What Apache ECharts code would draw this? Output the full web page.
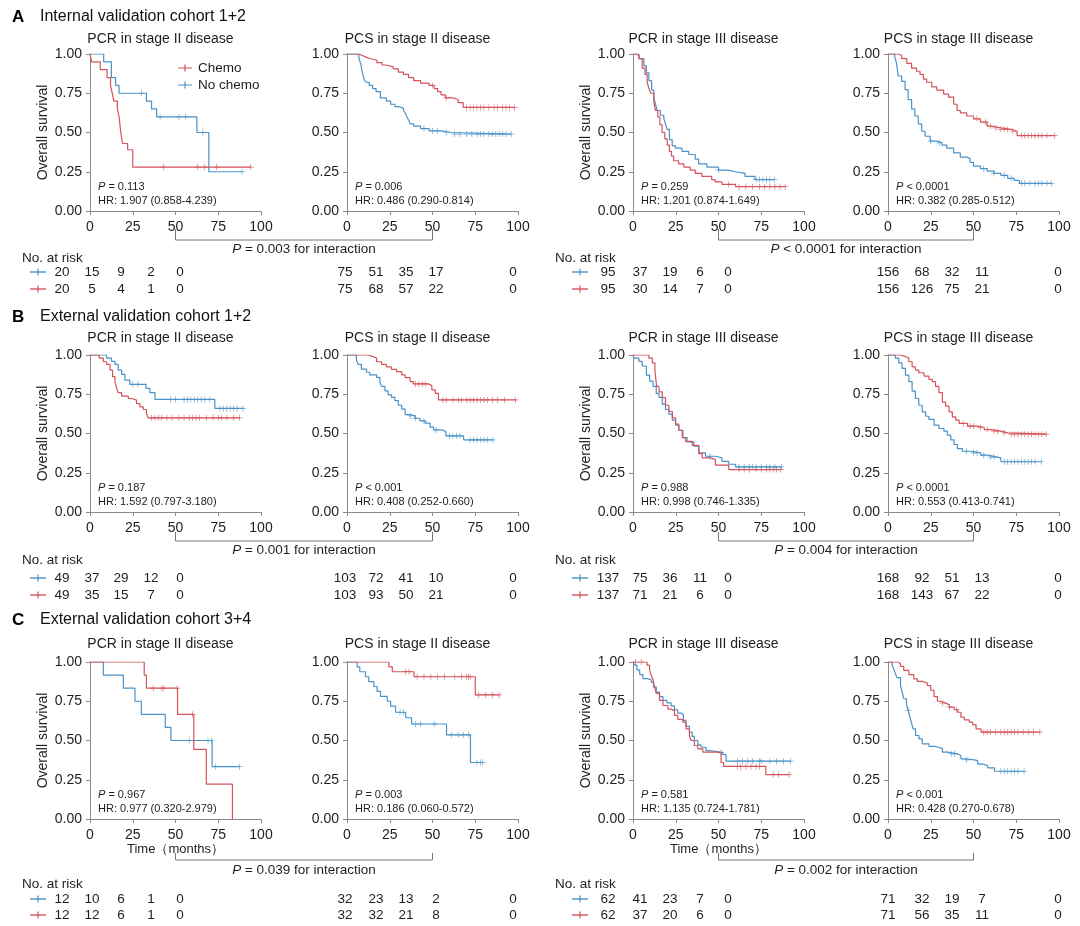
<!DOCTYPE html>
<html><head><meta charset="utf-8">
<script src="https://cdn.jsdelivr.net/npm/echarts@6/dist/echarts.min.js"></script>
<style>html,body{margin:0;padding:0;background:#fff}#c{width:1080px;height:926px}</style>
</head><body><div id="c"></div>
<script>
// ---------------- DATA ----------------
const sectionLetters = ['A', 'B', 'C'];
const sectionTitles = ['Internal validation cohort 1+2', 'External validation cohort 1+2', 'External validation cohort 3+4'];
const panelTitles = ['PCR in stage II disease', 'PCS in stage II disease', 'PCR in stage III disease', 'PCS in stage III disease'];
const xTicks = [0, 25, 50, 75, 100];
const yTicks = [0, 0.25, 0.5, 0.75, 1];
const seriesNames = ['Chemo', 'No chemo'];

// Kaplan-Meier step points [months, survival]; censor times
const A1_chemo = [[0,1],[1,0.95],[6,0.90],[10,0.85],[12,0.80],[13,0.75],[14,0.70],[16,0.65],[17,0.60],[17.5,0.55],[18,0.50],[19,0.43],[22,0.39],[25,0.28],[94,0.28]];
const A1_chemo_cens = [43,63,67,74,94];
const A1_nochemo = [[0,1],[8,0.95],[12.5,0.85],[15,0.80],[17,0.75],[33,0.70],[36,0.65],[39,0.60],[62.5,0.50],[69.5,0.25],[89,0.25]];
const A1_nochemo_cens = [30,41,52,56,66,89];

const A2_chemo = [[0,1],[7,0.99],[9,0.98],[11,0.97],[14,0.96],[17.5,0.945],[20.5,0.93],[22.5,0.92],[27,0.905],[30,0.885],[33,0.87],[36,0.85],[39,0.83],[43,0.815],[48,0.80],[51,0.78],[53,0.76],[55,0.74],[57.5,0.72],[62.5,0.71],[65,0.69],[68,0.66],[98,0.66]];
const A2_chemo_cens = [50,58,70,72,74,76,78,80,83,86,88,91,93,95,98];
const A2_nochemo = [[0,1],[7,0.97],[8,0.94],[9,0.88],[10,0.84],[11,0.82],[13,0.80],[15,0.78],[17,0.76],[19.5,0.72],[23,0.70],[25.5,0.68],[28,0.665],[30,0.655],[33,0.64],[34,0.625],[35,0.60],[36,0.58],[37,0.555],[39,0.54],[43,0.525],[48,0.51],[55,0.50],[61,0.49],[96,0.49]];
const A2_nochemo_cens = [45,50,53,58,63,66,70,73,76,78,80,83,85,87,89,91,93,96];

const A3_chemo = [[0,1],[1.5,0.99],[3.5,0.97],[5.4,0.91],[7,0.87],[8.3,0.82],[9.3,0.78],[10.3,0.75],[12.2,0.69],[13.2,0.64],[14.5,0.60],[15.7,0.55],[17,0.50],[18.6,0.46],[20,0.42],[21.3,0.38],[22.5,0.35],[23.8,0.32],[26.7,0.30],[29.7,0.28],[33.5,0.26],[36.4,0.24],[40.3,0.22],[46,0.20],[48,0.185],[52,0.17],[60,0.155],[89,0.155]];
const A3_chemo_cens = [56,62,66,70,74,77,80,83,86,89];
const A3_nochemo = [[0,1],[3.5,0.97],[6.4,0.925],[7.8,0.88],[9.3,0.83],[10.9,0.77],[12.2,0.72],[13.2,0.68],[14.1,0.64],[16,0.61],[18,0.59],[19,0.555],[20,0.52],[21.3,0.455],[22.9,0.415],[24.8,0.40],[28.7,0.38],[32.6,0.36],[36.4,0.33],[38.4,0.30],[43.2,0.28],[50,0.26],[55.8,0.25],[59.7,0.24],[65.5,0.22],[71.3,0.20],[82.6,0.20]];
const A3_nochemo_cens = [50,72,74,76,78,80,82.6];

const A4_chemo = [[0,1],[6,0.99],[8,0.97],[11,0.94],[13.8,0.91],[16.7,0.89],[18.7,0.87],[20.7,0.84],[22.6,0.82],[25.6,0.79],[28.5,0.77],[32.5,0.745],[35.4,0.725],[38.4,0.68],[40.4,0.64],[42.3,0.625],[46,0.605],[50,0.587],[54,0.566],[58,0.54],[61,0.53],[66,0.52],[72,0.508],[75.5,0.48],[97.5,0.48]];
const A4_chemo_cens = [52,57,60,63,66,68,70,73,78,80,82,84,86,88,90,93,97.5];
const A4_nochemo = [[0,1],[4,0.98],[5,0.94],[6,0.86],[8,0.826],[10,0.773],[11.8,0.71],[13.8,0.65],[15.7,0.605],[17.7,0.555],[19.7,0.508],[21.7,0.476],[24.6,0.445],[28.5,0.434],[31.5,0.42],[34.4,0.40],[38.4,0.37],[42.3,0.343],[46.3,0.333],[48,0.31],[50,0.286],[54,0.27],[58,0.254],[62,0.24],[66,0.227],[70,0.208],[73.8,0.195],[76.8,0.176],[95.5,0.176]];
const A4_nochemo_cens = [25,30,56,62,68,72,78,80,83,86,88,90,93,95.5];

const B1_chemo = [[0,1],[5.4,0.98],[7.8,0.957],[9.7,0.94],[11.7,0.904],[13.2,0.862],[14.6,0.83],[15.6,0.787],[16.5,0.76],[18.5,0.738],[22.4,0.723],[24.3,0.713],[27.2,0.69],[29.2,0.67],[31.1,0.653],[33,0.628],[34,0.60],[87.5,0.60]];
const B1_chemo_cens = [36,38,40,42,45,48,52,55,58,60,62,64,68,72,75,77,80,84,87.5];
const B1_nochemo = [[0,1],[9.7,0.98],[12.6,0.96],[14.6,0.94],[16.5,0.904],[18.5,0.877],[20.4,0.84],[23.3,0.813],[32.7,0.787],[35,0.76],[38,0.717],[73,0.66],[89.5,0.66]];
const B1_nochemo_cens = [25,28,47,50,55,57,59,61,63,65,67,70,76,78,80,82,84,86,89.5];

const B2_chemo = [[0,1],[12.4,0.99],[15.3,0.98],[17.3,0.957],[20.2,0.94],[23,0.925],[26,0.909],[29,0.894],[32,0.873],[34,0.856],[36.9,0.83],[38.8,0.816],[47.6,0.805],[49.6,0.778],[51.6,0.756],[53.5,0.714],[98.6,0.714]];
const B2_chemo_cens = [40,42,44,46,56,58,62,65,67,70,72,74,76,78,80,82,85,88,92,98.6];
const B2_nochemo = [[0,1],[5.5,0.97],[6.5,0.94],[8.4,0.91],[11.4,0.89],[13.3,0.873],[17.3,0.858],[19.2,0.83],[20.2,0.80],[22.2,0.771],[24.1,0.746],[26,0.73],[28,0.71],[30,0.68],[32,0.655],[34,0.62],[36.9,0.612],[39.8,0.597],[42.7,0.58],[45.7,0.566],[48.6,0.54],[50.6,0.523],[55.5,0.513],[57.8,0.485],[68.2,0.46],[85.3,0.46]];
const B2_nochemo_cens = [37,40,45,52,60,62,64,66,72,74,76,78,80,82,85.3];

const B3_chemo = [[0,1],[9.3,0.98],[11.3,0.95],[12.8,0.904],[13.8,0.80],[15.2,0.765],[17.1,0.728],[19,0.68],[21,0.64],[23,0.60],[24.9,0.56],[26.8,0.52],[28.8,0.474],[30.7,0.45],[34.6,0.425],[38.5,0.372],[40.5,0.345],[45.3,0.334],[48.2,0.298],[56,0.27],[86.2,0.27]];
const B3_chemo_cens = [62,65,68,72,75,78,80,82,84,86.2];
const B3_nochemo = [[0,1],[0.6,0.98],[3.5,0.96],[5.4,0.93],[7.8,0.872],[9.7,0.834],[11.7,0.80],[13.6,0.755],[15.2,0.73],[17.1,0.687],[19,0.653],[21,0.623],[23,0.585],[24.9,0.553],[26.8,0.52],[29.2,0.474],[31.7,0.447],[35.6,0.419],[38.5,0.377],[42.4,0.355],[48.2,0.345],[52,0.323],[56,0.304],[60,0.287],[86.8,0.287]];
const B3_nochemo_cens = [45,62,65,68,70,72,75,78,80,83,86.8];

const B4_chemo = [[0,1],[7.3,0.99],[10.2,0.98],[12.2,0.957],[14.1,0.925],[16,0.904],[18,0.887],[21,0.866],[23.9,0.845],[25.9,0.83],[27.8,0.80],[29.8,0.76],[31.8,0.70],[33.7,0.675],[35.7,0.638],[37.6,0.606],[39.6,0.585],[41.6,0.564],[46.5,0.547],[52.4,0.538],[56.3,0.525],[60.2,0.515],[66,0.504],[70,0.496],[92.5,0.496]];
const B4_chemo_cens = [44,48,50,54,58,62,64,68,72,74,76,78,80,82,84,86,88,90,92.5];
const B4_nochemo = [[0,1],[4.3,0.98],[6.3,0.95],[8.2,0.915],[10.2,0.872],[12.2,0.83],[14.1,0.77],[16,0.723],[18,0.68],[20,0.638],[22,0.61],[23.9,0.59],[26.9,0.553],[29.8,0.532],[32.7,0.515],[34.7,0.49],[36.7,0.46],[38.6,0.43],[40.6,0.404],[43.5,0.387],[48.4,0.377],[54.3,0.362],[58.2,0.35],[64,0.345],[66,0.32],[89.6,0.32]];
const B4_nochemo_cens = [46,50,52,56,60,62,68,70,72,74,76,78,80,82,84,86,89.6];

const C1_chemo = [[0,1],[31.7,0.917],[33,0.833],[51.2,0.667],[60.7,0.444],[68,0.222],[83.3,0]];
const C1_chemo_cens = [37,42,43,51,60];
const C1_nochemo = [[0,1],[7.8,0.917],[19.5,0.833],[26.3,0.75],[30,0.667],[44,0.583],[47.3,0.50],[71.4,0.333],[87.5,0.333]];
const C1_nochemo_cens = [58,69,71,73.5,87.5];

const C2_chemo = [[0,1],[24.5,0.969],[26.5,0.938],[39.2,0.906],[75,0.79],[89,0.79]];
const C2_chemo_cens = [34.3,36.3,41,45,49,53,57,63,67,70,71,72,77,81,85,89];
const C2_nochemo = [[0,1],[5.9,0.969],[7.5,0.938],[10.8,0.906],[12.7,0.875],[15.7,0.844],[17.6,0.813],[19.6,0.781],[23.5,0.75],[25.5,0.719],[28.4,0.68],[34.3,0.645],[37.8,0.605],[58.2,0.536],[72.2,0.36],[79.4,0.36]];
const C2_nochemo_cens = [31,33,40,43,51,61,65,68,71,76,78,79.4];

const C3_chemo = [[0,1],[8.2,0.98],[9.7,0.95],[10.7,0.915],[11.7,0.887],[12.6,0.84],[13.6,0.80],[15.5,0.755],[17.5,0.723],[20.4,0.70],[22.3,0.69],[24.3,0.66],[26.2,0.635],[29.1,0.617],[31,0.574],[33,0.532],[34,0.50],[35.9,0.468],[37.9,0.447],[40.8,0.426],[49.5,0.42],[51.5,0.36],[53,0.335],[77.7,0.283],[91.3,0.283]];
const C3_chemo_cens = [1.5,4.8,61,63,66,69,72,74,82,85,91.3];
const C3_nochemo = [[0,1],[1,0.98],[2.3,0.95],[3.9,0.92],[5.8,0.894],[8.7,0.885],[10.7,0.87],[12,0.84],[13.6,0.808],[15.5,0.78],[17.5,0.755],[19.8,0.74],[22.3,0.72],[24.3,0.696],[26.2,0.674],[28.2,0.664],[29.5,0.628],[31,0.59],[33,0.553],[34.6,0.526],[35.9,0.50],[37.9,0.472],[39.8,0.457],[42.7,0.436],[44.7,0.425],[52.4,0.41],[54.4,0.368],[92.2,0.368]];
const C3_nochemo_cens = [51.5,61,64,67,70,74,75,80,84,88,92.2];

const C4_chemo = [[0,1],[5.9,0.99],[7.3,0.972],[9.2,0.947],[12.2,0.92],[15.1,0.893],[17.1,0.877],[20,0.866],[23,0.85],[25,0.82],[26.9,0.78],[28.9,0.75],[30.8,0.738],[33.8,0.728],[35.8,0.713],[38.7,0.696],[40.7,0.68],[42.6,0.649],[44.6,0.632],[47.5,0.617],[49.5,0.60],[51.5,0.574],[54.4,0.553],[88.8,0.553]];
const C4_chemo_cens = [32,36,40,56,58,60,63,66,68,70,72,74,76,79,82,85,88.8];
const C4_nochemo = [[0,1],[2.4,0.979],[3.3,0.957],[4.3,0.926],[5.3,0.90],[7.3,0.851],[8.3,0.808],[9.2,0.766],[10.8,0.728],[11.8,0.69],[12.8,0.649],[13.6,0.617],[14.7,0.574],[16.1,0.532],[18.1,0.51],[20,0.479],[24,0.462],[27.9,0.45],[31.8,0.426],[34.8,0.415],[40.7,0.404],[42.6,0.383],[45.6,0.377],[50.5,0.372],[52.5,0.35],[55.4,0.34],[58.3,0.326],[62.3,0.304],[79.6,0.304]];
const C4_nochemo_cens = [12,37,39,46,66,68,70,72,74,76,79.6];

// P values / HR text for each panel (row-major)
const pTexts = ['= 0.113','= 0.006','= 0.259','< 0.0001','= 0.187','< 0.001','= 0.988','< 0.0001','= 0.967','= 0.003','= 0.581','< 0.001'];
const hrTexts = ['1.907 (0.858-4.239)','0.486 (0.290-0.814)','1.201 (0.874-1.649)','0.382 (0.285-0.512)',
                 '1.592 (0.797-3.180)','0.408 (0.252-0.660)','0.998 (0.746-1.335)','0.553 (0.413-0.741)',
                 '0.977 (0.320-2.979)','0.186 (0.060-0.572)','1.135 (0.724-1.781)','0.428 (0.270-0.678)'];
// interaction P values: [row][left pair, right pair]
const interactionP = [['= 0.003','< 0.0001'],['= 0.001','= 0.004'],['= 0.039','= 0.002']];
// numbers at risk per panel (row-major): no chemo (blue), chemo (red)
const riskNoChemo = [[20,15,9,2,0],[75,51,35,17,0],[95,37,19,6,0],[156,68,32,11,0],
                     [49,37,29,12,0],[103,72,41,10,0],[137,75,36,11,0],[168,92,51,13,0],
                     [12,10,6,1,0],[32,23,13,2,0],[62,41,23,7,0],[71,32,19,7,0]];
const riskChemo =   [[20,5,4,1,0],[75,68,57,22,0],[95,30,14,7,0],[156,126,75,21,0],
                     [49,35,15,7,0],[103,93,50,21,0],[137,71,21,6,0],[168,143,67,22,0],
                     [12,12,6,1,0],[32,32,21,8,0],[62,37,20,6,0],[71,56,35,11,0]];

const curvesChemo = [A1_chemo,A2_chemo,A3_chemo,A4_chemo,B1_chemo,B2_chemo,B3_chemo,B4_chemo,C1_chemo,C2_chemo,C3_chemo,C4_chemo];
const censChemo = [A1_chemo_cens,A2_chemo_cens,A3_chemo_cens,A4_chemo_cens,B1_chemo_cens,B2_chemo_cens,B3_chemo_cens,B4_chemo_cens,C1_chemo_cens,C2_chemo_cens,C3_chemo_cens,C4_chemo_cens];
const curvesNo = [A1_nochemo,A2_nochemo,A3_nochemo,A4_nochemo,B1_nochemo,B2_nochemo,B3_nochemo,B4_nochemo,C1_nochemo,C2_nochemo,C3_nochemo,C4_nochemo];
const censNo = [A1_nochemo_cens,A2_nochemo_cens,A3_nochemo_cens,A4_nochemo_cens,B1_nochemo_cens,B2_nochemo_cens,B3_nochemo_cens,B4_nochemo_cens,C1_nochemo_cens,C2_nochemo_cens,C3_nochemo_cens,C4_nochemo_cens];

// ---------------- LAYOUT / STYLE ----------------
const FONT = '"Liberation Sans", Arial, Helvetica, sans-serif';
const RED = '#d4545b', BLUE = '#4a92c8', AXIS = '#8a8a8a', TXT = '#1e1e1e';
const colLeft = [90, 347, 633, 888];
const rowTop = [54, 355, 662];
const W = 171, H = 157;
const titleY = [38, 337, 643];
const headerY = [17, 317, 620];
const bracketTop = [229, 532, 853];
const bracketBot = [240, 541, 860];
const interY = [249, 550, 870];
const riskHeadY = [258, 560, 884];
const riskBlueY = [272, 578, 899];
const riskRedY = [289, 595, 915];
const riskCols = [[62,92,121,151,180],[345,376,406,436,513],[608,640,670,700,728],[888,922,952,982,1058]];
const riskHeadX = [22, 555];
const riskSymX = [30, 572];

function survAt(curve, t) { let s = curve[0][1]; for (const p of curve) { if (p[0] <= t) s = p[1]; } return s; }

const PLUS = 'path://M0,4.4L10,4.4L10,5.6L0,5.6Z M4.4,0L5.6,0L5.6,10L4.4,10Z';

const grids = [], xAxes = [], yAxes = [], series = [], titles = [], graphics = [];
for (let r = 0; r < 3; r++) {
  for (let c = 0; c < 4; c++) {
    const i = r * 4 + c;
    grids.push({ left: colLeft[c], top: rowTop[r], width: W, height: H });
    xAxes.push({
      gridIndex: i, type: 'value', min: xTicks[0], max: xTicks[xTicks.length - 1], interval: 25,
      axisLine: { show: true, lineStyle: { color: AXIS, width: 1 } },
      axisTick: { show: true, length: 4, lineStyle: { color: AXIS } },
      axisLabel: { color: TXT, fontSize: 14, fontFamily: FONT, margin: 9 },
      splitLine: { show: false },
      name: (r === 2 && (c === 0 || c === 2)) ? 'Time（months）' : '',
      nameLocation: 'middle', nameGap: 23,
      nameTextStyle: { color: TXT, fontSize: 13, fontFamily: FONT }
    });
    yAxes.push({
      gridIndex: i, type: 'value', min: yTicks[0], max: yTicks[yTicks.length - 1], interval: 0.25,
      axisLine: { show: true, lineStyle: { color: AXIS, width: 1 } },
      axisTick: { show: true, length: 4, lineStyle: { color: AXIS } },
      axisLabel: { color: TXT, fontSize: 14, fontFamily: FONT, margin: 8, formatter: v => v.toFixed(2) },
      splitLine: { show: false },
      name: (c === 0 || c === 2) ? 'Overall survival' : '',
      nameLocation: 'middle', nameGap: 40,
      nameTextStyle: { color: TXT, fontSize: 14, fontFamily: FONT }
    });
    titles.push({
      text: panelTitles[c], left: colLeft[c] + W / 2 - 15, top: titleY[r] - 6, textAlign: 'center', padding: 0,
      textStyle: { fontSize: 14, fontWeight: 'normal', color: TXT, fontFamily: FONT }
    });
    const lineCommon = { type: 'line', xAxisIndex: i, yAxisIndex: i, step: 'end', showSymbol: false, symbol: 'none', animation: false, silent: true };
    series.push(Object.assign({}, lineCommon, { name: seriesNames[1], data: curvesNo[i], lineStyle: { color: BLUE, width: 1.2 }, itemStyle: { color: BLUE } }));
    series.push(Object.assign({}, lineCommon, { name: seriesNames[0], data: curvesChemo[i], lineStyle: { color: RED, width: 1.2 }, itemStyle: { color: RED } }));
    series.push({ type: 'scatter', name: 'cens-no-' + i, xAxisIndex: i, yAxisIndex: i, symbol: PLUS, symbolSize: 6, animation: false, silent: true,
      itemStyle: { color: BLUE }, data: censNo[i].map(t => [t, survAt(curvesNo[i], t)]) });
    series.push({ type: 'scatter', name: 'cens-c-' + i, xAxisIndex: i, yAxisIndex: i, symbol: PLUS, symbolSize: 6, animation: false, silent: true,
      itemStyle: { color: RED }, data: censChemo[i].map(t => [t, survAt(curvesChemo[i], t)]) });

    // P / HR annotations
    const gb = rowTop[r] + H;
    graphics.push({ type: 'text', x: colLeft[c] + 8, y: gb - 24, style: {
      text: '{i|P} ' + pTexts[i], rich: { i: { fontStyle: 'italic', fontSize: 11, fontFamily: FONT, fill: TXT } },
      fontSize: 11, fontFamily: FONT, fill: TXT, textAlign: 'left', align: 'left', textVerticalAlign: 'middle', verticalAlign: 'middle' } });
    graphics.push({ type: 'text', x: colLeft[c] + 8, y: gb - 10, style: {
      text: 'HR: ' + hrTexts[i], fontSize: 11, fontFamily: FONT, fill: TXT, textAlign: 'left', align: 'left', textVerticalAlign: 'middle', verticalAlign: 'middle' } });

    // risk numbers
    for (let k = 0; k < 5; k++) {
      graphics.push({ type: 'text', x: riskCols[c][k], y: riskBlueY[r], style: { text: String(riskNoChemo[i][k]), fontSize: 13.5, fontFamily: FONT, fill: TXT, textAlign: 'center', align: 'center', textVerticalAlign: 'middle', verticalAlign: 'middle' } });
      graphics.push({ type: 'text', x: riskCols[c][k], y: riskRedY[r], style: { text: String(riskChemo[i][k]), fontSize: 13.5, fontFamily: FONT, fill: TXT, textAlign: 'center', align: 'center', textVerticalAlign: 'middle', verticalAlign: 'middle' } });
    }
  }
  // section header
  graphics.push({ type: 'text', x: 12, y: headerY[r], style: { text: sectionLetters[r], fontSize: 17, fontWeight: 'bold', fontFamily: FONT, fill: '#000', textVerticalAlign: 'middle', verticalAlign: 'middle' } });
  graphics.push({ type: 'text', x: 40, y: headerY[r], style: { text: sectionTitles[r], fontSize: 16, fontFamily: FONT, fill: '#111', textVerticalAlign: 'middle', verticalAlign: 'middle' } });
  // interaction brackets
  for (let h = 0; h < 2; h++) {
    const xa = colLeft[h * 2] + W * 0.5, xb = colLeft[h * 2 + 1] + W * 0.5;
    graphics.push({ type: 'polyline', shape: { points: [[xa, bracketTop[r]], [xa, bracketBot[r]], [xb, bracketBot[r]], [xb, bracketTop[r]]] }, style: { stroke: '#777', lineWidth: 1, fill: null } });
    graphics.push({ type: 'text', x: (xa + xb) / 2, y: interY[r], style: {
      text: '{i|P} ' + interactionP[r][h] + ' for interaction', rich: { i: { fontStyle: 'italic', fontSize: 13.5, fontFamily: FONT, fill: TXT } },
      fontSize: 13.5, fontFamily: FONT, fill: TXT, textAlign: 'center', align: 'center', textVerticalAlign: 'middle', verticalAlign: 'middle' } });
    // risk header + symbols
    graphics.push({ type: 'text', x: riskHeadX[h], y: riskHeadY[r], style: { text: 'No. at risk', fontSize: 13.5, fontFamily: FONT, fill: TXT, textVerticalAlign: 'middle', verticalAlign: 'middle' } });
    [[riskBlueY[r], BLUE], [riskRedY[r], RED]].forEach(([yy, col]) => {
      graphics.push({ type: 'line', shape: { x1: riskSymX[h], y1: yy, x2: riskSymX[h] + 16, y2: yy }, style: { stroke: col, lineWidth: 1.4 } });
      graphics.push({ type: 'line', shape: { x1: riskSymX[h] + 8, y1: yy - 3.5, x2: riskSymX[h] + 8, y2: yy + 3.5 }, style: { stroke: col, lineWidth: 1.2 } });
    });
  }
}

const chart = echarts.init(document.getElementById('c'), null, { renderer: 'canvas' });
chart.setOption({
  backgroundColor: '#fff',
  animation: false,
  title: titles,
  grid: grids,
  xAxis: xAxes,
  yAxis: yAxes,
  legend: {
    left: 178, top: 61, orient: 'vertical', itemGap: 3, itemWidth: 14, itemHeight: 12, padding: 0,
    data: [
      { name: seriesNames[0], icon: 'path://M0,5.4L14,5.4L14,6.6L0,6.6Z M6.4,2.5L7.6,2.5L7.6,9.5L6.4,9.5Z' },
      { name: seriesNames[1], icon: 'path://M0,5.4L14,5.4L14,6.6L0,6.6Z M6.4,2.5L7.6,2.5L7.6,9.5L6.4,9.5Z' }
    ],
    textStyle: { fontSize: 13.5, fontFamily: FONT, color: TXT, padding: [0, 0, 0, 1] }, selectedMode: false
  },
  series: series,
  graphic: { elements: graphics }
});
</script>
</body></html>
